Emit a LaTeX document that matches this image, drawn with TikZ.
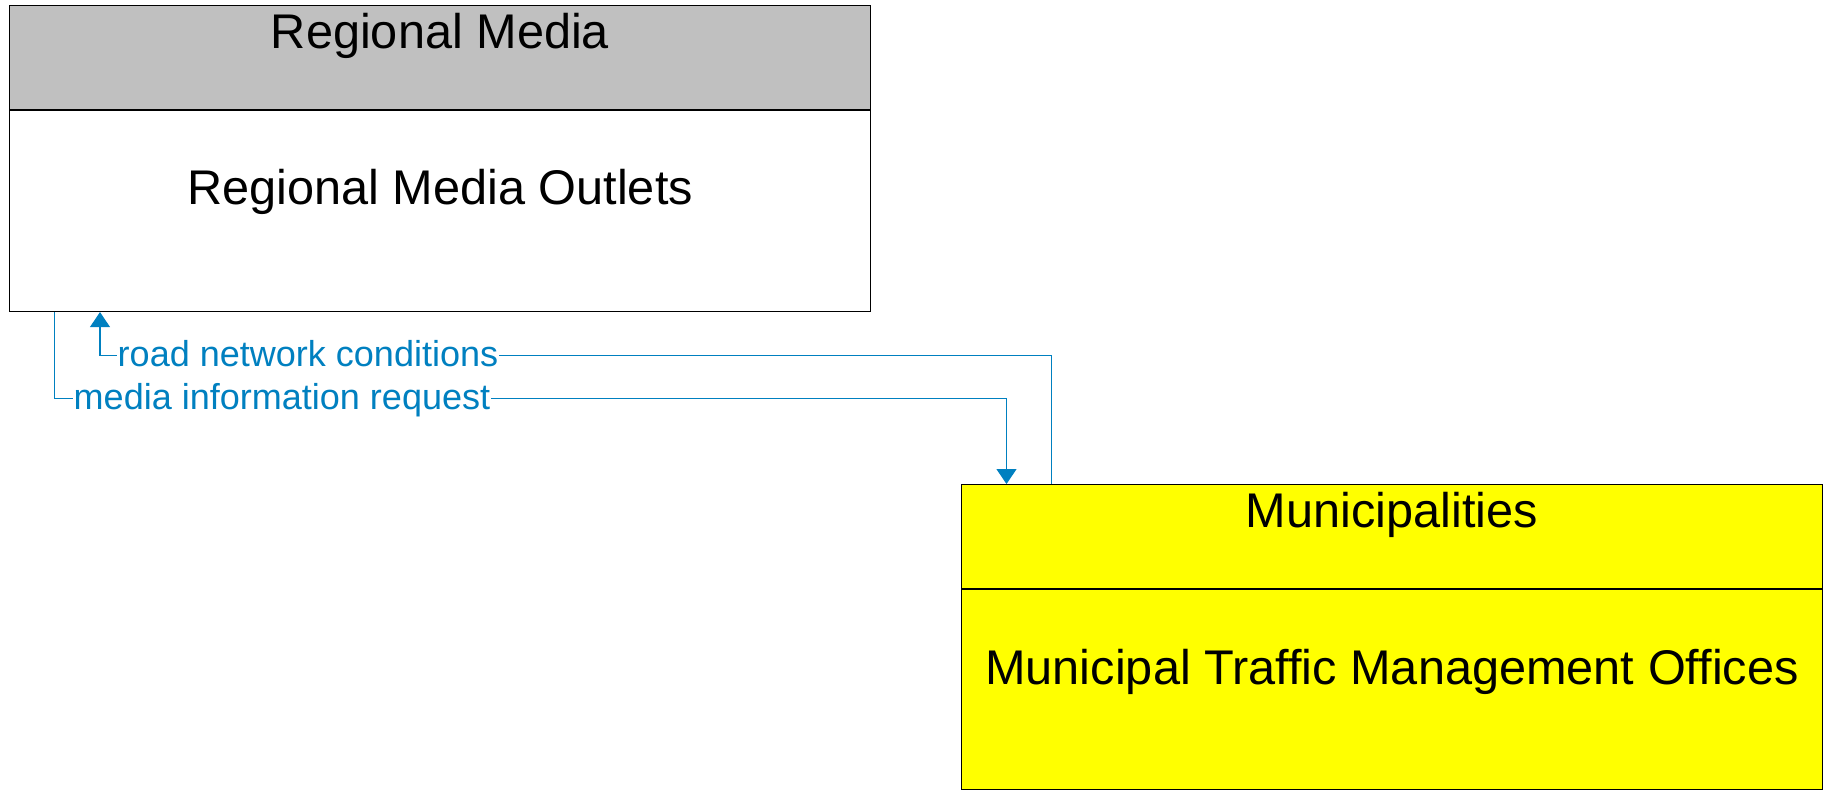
\documentclass[tikz,border=0pt]{standalone}
\usepackage{fontspec}
\setmainfont{Liberation Sans}
\usepackage{tikz}
\usetikzlibrary{arrows.meta, positioning, calc}
\usepackage{xcolor}
\definecolor{hdrgray}{RGB}{192,192,192}
\definecolor{flowblue}{RGB}{0,128,192}
\definecolor{muniyellow}{RGB}{255,255,0}

\begin{document}
\begin{tikzpicture}[
  every node/.style={font=\fontsize{27.7}{33}\selectfont},
  hdr/.style={rectangle, draw=black, line width=0.6pt, inner sep=0pt,
              minimum width=17.22cm, text height=0.86cm, text depth=1.22cm, align=center},
  body/.style={rectangle, draw=black, line width=0.6pt, inner sep=0pt,
               minimum width=17.22cm, text height=1.88cm, text depth=2.14cm, align=center},
  flow/.style={draw=flowblue, line width=0.6pt, -{Triangle[width=0.4cm, length=0.3cm]}},
  lbl/.style={font=\fontsize{20.5}{24}\selectfont, text=flowblue, fill=white, inner sep=0.5pt}
]
  \useasboundingbox (0,0) rectangle (36.5,-15.78);

  \node[hdr, fill=hdrgray, anchor=north west] (media_hdr) at (0.18,-0.10) {Regional Media};
  \node[body, fill=white, below=0pt of media_hdr] (media_body) {Regional Media Outlets};

  \node[hdr, fill=muniyellow, anchor=north west] (muni_hdr) at (19.22,-9.68) {Municipalities};
  \node[body, fill=muniyellow, below=0pt of muni_hdr, text depth=2.10cm, text height=1.90cm] (muni_body) {Municipal Traffic Management Offices};

  % road network conditions
  \coordinate (rd_src) at ($(muni_hdr.north west)+(1.81,0)$);
  \coordinate (rd_dst) at ($(media_body.south west)+(1.82,0)$);
  \coordinate (rd_bend) at ($(rd_dst)+(0,-0.86)$);
  \draw[flow] (rd_src) |- (rd_bend) -- (rd_dst);
  \node[lbl, anchor=base west] (rd_lbl) at ($(rd_bend)+(0.33,-0.22)$) {road network conditions};

  % media information request
  \coordinate (mi_src) at ($(media_body.south west)+(0.91,0)$);
  \coordinate (mi_dst) at ($(muni_hdr.north west)+(0.91,0)$);
  \coordinate (mi_bend) at ($(mi_src)+(0,-1.73)$);
  \draw[flow] (mi_src) -- (mi_bend) -| (mi_dst);
  \node[lbl, anchor=base west] (mi_lbl) at ($(mi_bend)+(0.36,-0.22)$) {media information request};
\end{tikzpicture}
\end{document}
